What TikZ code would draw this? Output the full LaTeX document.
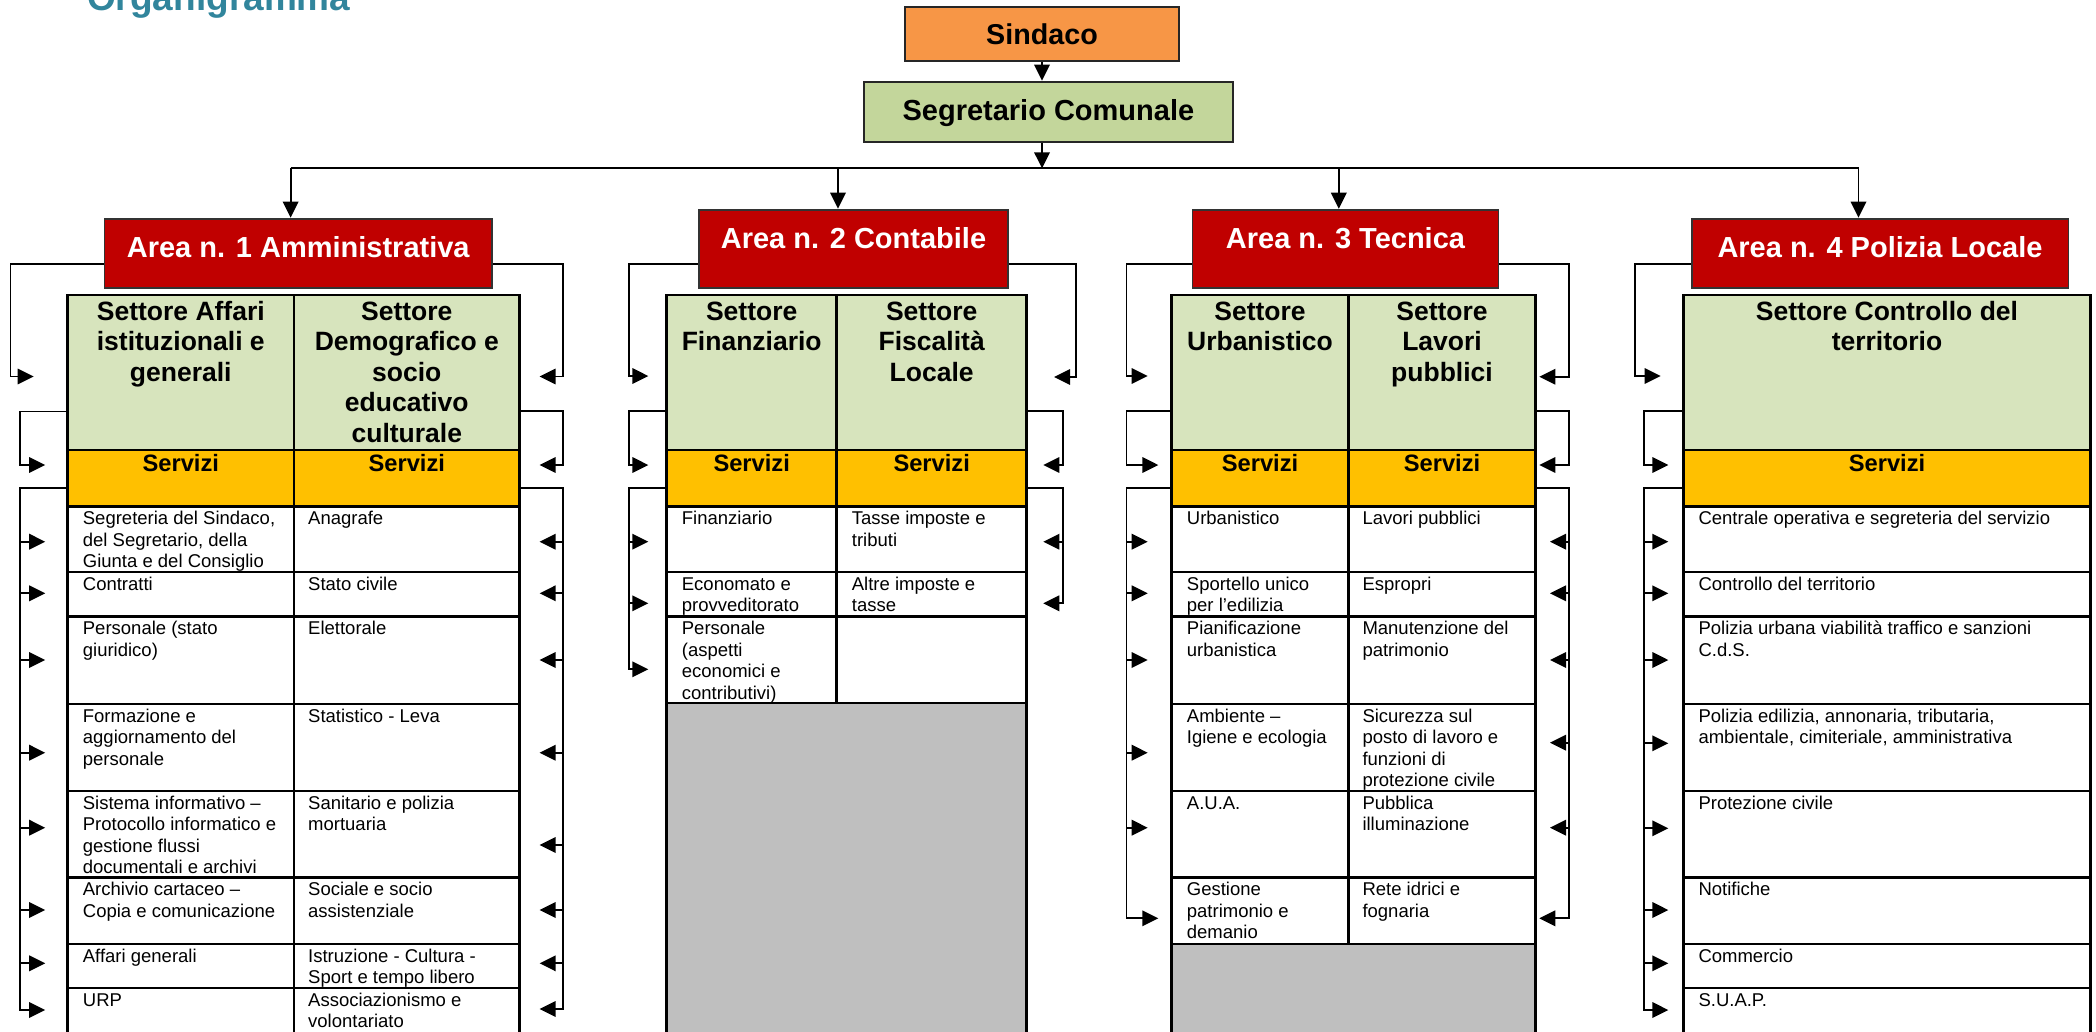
\documentclass[tikz,border=0pt]{standalone}
\usepackage{fontspec}
\setmainfont{Liberation Sans}
\usetikzlibrary{arrows.meta}
\definecolor{orangeS}{HTML}{F79646}
\definecolor{greenS}{HTML}{C3D69B}
\definecolor{redA}{HTML}{C00000}
\definecolor{hdrC}{HTML}{D7E4BD}
\definecolor{servC}{HTML}{FFC000}
\definecolor{grayF}{HTML}{BFBFBF}
\definecolor{tealT}{HTML}{31859C}
\newcommand\mystrut{\rule{0pt}{20pt}}
\begin{document}
\begin{tikzpicture}[x=1pt,y=-1pt,
  topbox/.style={draw=black!85, line width=1.8pt, inner xsep=0pt, inner ysep=0pt, anchor=north, font=\bfseries\fontsize{29}{32}\selectfont},
  areabox/.style={draw=black!80, line width=1.8pt, fill=redA, text=white, inner xsep=0pt, inner ysep=0pt, anchor=north, font=\bfseries\fontsize{29}{32}\selectfont},
  conn/.style={line width=1.8pt, black},
  arr/.style={conn, -{Triangle[length=16pt,width=15.5pt]}},
  tl/.style={line width=2.6pt, black, line cap=rect},
  hdrtxt/.style={anchor=north, inner sep=0pt, align=center, font=\bfseries\fontsize{26.5}{30.5}\selectfont},
  servtxt/.style={anchor=north, inner sep=0pt, font=\bfseries\fontsize{23.7}{27}\selectfont},
  cell/.style={anchor=north west, inner sep=0pt, align=left, font=\fontsize{18.5}{21.4}\selectfont}
]
\useasboundingbox (0,0) rectangle (2096,1031);
\clip (0,0) rectangle (2096,1031);

% title
\node[anchor=base west, inner sep=0pt, text=tealT, font=\bfseries\fontsize{37}{40}\selectfont] (title) at (87,10) {Organigramma};

% top boxes
\node[topbox, fill=orangeS, minimum width=274pt, text height=37.6pt, text depth=16.7pt, font=\bfseries\fontsize{28.7}{32}\selectfont] (sind) at (1042,5.7) {Sindaco};
\node[topbox, fill=greenS, minimum width=369pt, text height=39.3pt, text depth=20.7pt] (seg) at (1048.4,80.7) {Segretario Comunale};

% area boxes
\node[areabox, minimum width=387.5pt, text height=38.5pt, text depth=30.5pt] (a1) at (298.25,217.7) {Area n. 1 Amministrativa};
\node[areabox, minimum width=309pt, text height=38.5pt, text depth=39.5pt] (a2) at (853.5,208.7) {Area n. 2 Contabile};
\node[areabox, minimum width=306pt, text height=38.5pt, text depth=39.5pt] (a3) at (1345.5,208.7) {Area n. 3 Tecnica};
\node[areabox, minimum width=376.8pt, text height=38.5pt, text depth=30.5pt] (a4) at (1880,217.7) {Area n. 4 Polizia Locale};

% top connectors
\coordinate (b1) at (290.6,168.3);
\coordinate (b2) at (838,168.3);
\coordinate (b3) at (1338.8,168.3);
\coordinate (b4) at (1858.5,168.3);
\draw[arr] (sind.south) -- (sind.south |- seg.north);
\draw[arr] (sind.south |- seg.south) -- (sind.south |- b1);
\draw[conn] (b1) -- (b4);
\draw[arr] (b1) -- (b1 |- a1.north);
\draw[arr] (b2) -- (b2 |- a2.north);
\draw[arr] (b3) -- (b3 |- a3.north);
\draw[arr] (b4) -- (b4 |- a4.north);

% ================= tables =================
% Area 1
\fill[hdrC] (67.7,295) rectangle (519.7,450);
\fill[servC] (67.7,450) rectangle (519.7,506.7);
\foreach \y in {295,450,506.7,572,616.7,704,791,877.7,944,988} \draw[tl] (67.7,\y) -- (519.7,\y);
\draw[tl] (67.7,295) -- (67.7,1045);
\draw[tl] (293.9,295) -- (293.9,1045);
\draw[tl] (519.7,295) -- (519.7,1045);
% Area 2
\fill[hdrC] (666.7,295) rectangle (1026.7,450);
\fill[servC] (666.7,450) rectangle (1026.7,506.7);
\fill[grayF] (666.7,703) rectangle (1026.7,1045);
\foreach \y in {295,450,506.7,572,616.7,703} \draw[tl] (666.7,\y) -- (1026.7,\y);
\draw[tl] (666.7,295) -- (666.7,1045);
\draw[tl] (836.7,295) -- (836.7,703);
\draw[tl] (1026.7,295) -- (1026.7,1045);
% Area 3
\fill[hdrC] (1171.7,295) rectangle (1535.7,450);
\fill[servC] (1171.7,450) rectangle (1535.7,506.7);
\fill[grayF] (1171.7,944) rectangle (1535.7,1045);
\foreach \y in {295,450,506.7,572,616.7,704,791,877.7,944} \draw[tl] (1171.7,\y) -- (1535.7,\y);
\draw[tl] (1171.7,295) -- (1171.7,1045);
\draw[tl] (1348.3,295) -- (1348.3,944);
\draw[tl] (1535.7,295) -- (1535.7,1045);
% Area 4
\fill[hdrC] (1683.3,295) rectangle (2090.7,450);
\fill[servC] (1683.3,450) rectangle (2090.7,506.7);
\foreach \y in {295,450,506.7,572,616.7,704,791,877.7,944,988} \draw[tl] (1683.3,\y) -- (2090.7,\y);
\draw[tl] (1683.3,295) -- (1683.3,1045);
\draw[tl] (2090.7,295) -- (2090.7,1045);

% ================= header texts =================
\node[hdrtxt] (h11) at (180.8,300) {\mystrut Settore Affari\\istituzionali e\\generali};
\node[hdrtxt] (h12) at (406.8,300) {\mystrut Settore\\Demografico e\\socio\\educativo\\culturale};
\node[hdrtxt] (h21) at (751.7,300) {\mystrut Settore\\Finanziario};
\node[hdrtxt] (h22) at (931.7,300) {\mystrut Settore\\Fiscalità\\Locale};
\node[hdrtxt] (h31) at (1260,300) {\mystrut Settore\\Urbanistico};
\node[hdrtxt] (h32) at (1442,300) {\mystrut Settore\\Lavori\\pubblici};
\node[hdrtxt] (h41) at (1887,300) {\mystrut Settore Controllo del\\territorio};

\node[servtxt] (s11) at (180.8,451.7) {\mystrut Servizi};
\node[servtxt] (s12) at (406.8,451.7) {\mystrut Servizi};
\node[servtxt] (s21) at (751.7,451.7) {\mystrut Servizi};
\node[servtxt] (s22) at (931.7,451.7) {\mystrut Servizi};
\node[servtxt] (s31) at (1260,451.7) {\mystrut Servizi};
\node[servtxt] (s32) at (1442,451.7) {\mystrut Servizi};
\node[servtxt] (s41) at (1887,451.7) {\mystrut Servizi};

% ================= cell texts =================
% Area 1
\node[cell] (c111) at (82.7,504.7) {\mystrut Segreteria del Sindaco,\\del Segretario, della\\Giunta e del Consiglio};
\node[cell] (c112) at (82.7,570) {\mystrut Contratti};
\node[cell] (c113) at (82.7,614.7) {\mystrut Personale (stato\\giuridico)};
\node[cell] (c114) at (82.7,702) {\mystrut Formazione e\\aggiornamento del\\personale};
\node[cell] (c115) at (82.7,789) {\mystrut Sistema informativo –\\Protocollo informatico e\\gestione flussi\\documentali e archivi};
\node[cell] (c116) at (82.7,875.7) {\mystrut Archivio cartaceo –\\Copia e comunicazione};
\node[cell] (c117) at (82.7,942) {\mystrut Affari generali};
\node[cell] (c118) at (82.7,986) {\mystrut URP};
\node[cell] (c121) at (308,504.7) {\mystrut Anagrafe};
\node[cell] (c122) at (308,570) {\mystrut Stato civile};
\node[cell] (c123) at (308,614.7) {\mystrut Elettorale};
\node[cell] (c124) at (308,702) {\mystrut Statistico - Leva};
\node[cell] (c125) at (308,789) {\mystrut Sanitario e polizia\\mortuaria};
\node[cell] (c126) at (308,875.7) {\mystrut Sociale e socio\\assistenziale};
\node[cell] (c127) at (308,942) {\mystrut Istruzione - Cultura -\\Sport e tempo libero};
\node[cell] (c128) at (308,986) {\mystrut Associazionismo e\\volontariato};
% Area 2
\node[cell] (c211) at (681.7,504.7) {\mystrut Finanziario};
\node[cell] (c212) at (681.7,570) {\mystrut Economato e\\provveditorato};
\node[cell] (c213) at (681.7,614.7) {\mystrut Personale\\(aspetti\\economici e\\contributivi)};
\node[cell] (c221) at (851.7,504.7) {\mystrut Tasse imposte e\\tributi};
\node[cell] (c222) at (851.7,570) {\mystrut Altre imposte e\\tasse};
% Area 3
\node[cell] (c311) at (1186.7,504.7) {\mystrut Urbanistico};
\node[cell] (c312) at (1186.7,570) {\mystrut Sportello unico\\per l’edilizia};
\node[cell] (c313) at (1186.7,614.7) {\mystrut Pianificazione\\urbanistica};
\node[cell] (c314) at (1186.7,702) {\mystrut Ambiente –\\Igiene e ecologia};
\node[cell] (c315) at (1186.7,789) {\mystrut A.U.A.};
\node[cell] (c316) at (1186.7,875.7) {\mystrut Gestione\\patrimonio e\\demanio};
\node[cell] (c321) at (1362.3,504.7) {\mystrut Lavori pubblici};
\node[cell] (c322) at (1362.3,570) {\mystrut Espropri};
\node[cell] (c323) at (1362.3,614.7) {\mystrut Manutenzione del\\patrimonio};
\node[cell] (c324) at (1362.3,702) {\mystrut Sicurezza sul\\posto di lavoro e\\funzioni di\\protezione civile};
\node[cell] (c325) at (1362.3,789) {\mystrut Pubblica\\illuminazione};
\node[cell] (c326) at (1362.3,875.7) {\mystrut Rete idrici e\\fognaria};
% Area 4
\node[cell] (c411) at (1698.3,504.7) {\mystrut Centrale operativa e segreteria del servizio};
\node[cell] (c412) at (1698.3,570) {\mystrut Controllo del territorio};
\node[cell] (c413) at (1698.3,614.7) {\mystrut Polizia urbana viabilità traffico e sanzioni\\C.d.S.};
\node[cell] (c414) at (1698.3,702) {\mystrut Polizia edilizia, annonaria, tributaria,\\ambientale, cimiteriale, amministrativa};
\node[cell] (c415) at (1698.3,789) {\mystrut Protezione civile};
\node[cell] (c416) at (1698.3,875.7) {\mystrut Notifiche};
\node[cell] (c417) at (1698.3,942) {\mystrut Commercio};
\node[cell] (c418) at (1698.3,986) {\mystrut S.U.A.P.};

% ================= side brackets =================
% Area 1 left
\draw[arr] (a1.west |- 0,264.3) -- (10.5,264.3) -- (10.5,376.5) -- (33.7,376.5);
\draw[arr] (66,411.5) -- (20,411.5) -- (20,465) -- (45.2,465);
\draw[arr] (66,488.3) -- (20,488.3) -- (20,1010) -- (45.2,1010);
\foreach \y in {541.7,593.3,660,752.7,827.7,910,963.3} \draw[arr] (20,\y) -- (45.2,\y);
% Area 1 right
\draw[arr] (a1.east |- 0,264.3) -- (562.6,264.3) -- (562.6,376.5) -- (539.6,376.5);
\draw[arr] (521,411) -- (562.6,411) -- (562.6,465) -- (539.6,465);
\draw[arr] (521,488.3) -- (562.6,488.3) -- (562.6,1009) -- (539.6,1009);
\foreach \y in {541.7,593.3,660,752.7,845,910,963.3} \draw[arr] (562.6,\y) -- (539.6,\y);

% Area 2 left
\draw[arr] (a2.west |- 0,264) -- (629,264) -- (629,376) -- (648.3,376);
\draw[arr] (665,411) -- (629,411) -- (629,465) -- (648.3,465);
\draw[arr] (665,488.3) -- (629,488.3) -- (629,669.3) -- (648.3,669.3);
\foreach \y in {541.7,603.3} \draw[arr] (629,\y) -- (648.3,\y);
% Area 2 right
\draw[arr] (a2.east |- 0,264.3) -- (1076.3,264.3) -- (1076.3,377) -- (1054,377);
\draw[arr] (1028,411) -- (1063.3,411) -- (1063.3,465) -- (1043.3,465);
\draw[arr] (1028,488.3) -- (1063.3,488.3) -- (1063.3,603.3) -- (1043.3,603.3);
\draw[arr] (1063.3,541.7) -- (1043.3,541.7);

% Area 3 left
\draw[arr] (a3.west |- 0,264.3) -- (1126.5,264.3) -- (1126.5,376) -- (1147.7,376);
\draw[arr] (1170,411) -- (1126.5,411) -- (1126.5,465) -- (1158.3,465);
\draw[arr] (1170,488.3) -- (1126.5,488.3) -- (1126.5,918.3) -- (1158.3,918.3);
\foreach \y in {541.7,593.3,660,752.7,827.7} \draw[arr] (1126.5,\y) -- (1147.7,\y);
% Area 3 right
\draw[arr] (a3.east |- 0,264.3) -- (1569,264.3) -- (1569,376.7) -- (1539.3,376.7);
\draw[arr] (1537,411) -- (1569,411) -- (1569,465) -- (1539.3,465);
\draw[arr] (1537,488.3) -- (1569,488.3) -- (1569,918.3) -- (1539.3,918.3);
\foreach \y in {541.7,593.3,660,742.7,827.7} \draw[arr] (1569,\y) -- (1550,\y);

% Area 4 left
\draw[arr] (a4.west |- 0,264.3) -- (1635,264.3) -- (1635,376) -- (1660.7,376);
\draw[arr] (1682,411) -- (1644,411) -- (1644,465) -- (1668.3,465);
\draw[arr] (1682,488.3) -- (1644,488.3) -- (1644,1010) -- (1668.3,1010);
\foreach \y in {541.7,593.3,660,743.3,828.3,910,963.3} \draw[arr] (1644,\y) -- (1668.3,\y);
\end{tikzpicture}
\end{document}
